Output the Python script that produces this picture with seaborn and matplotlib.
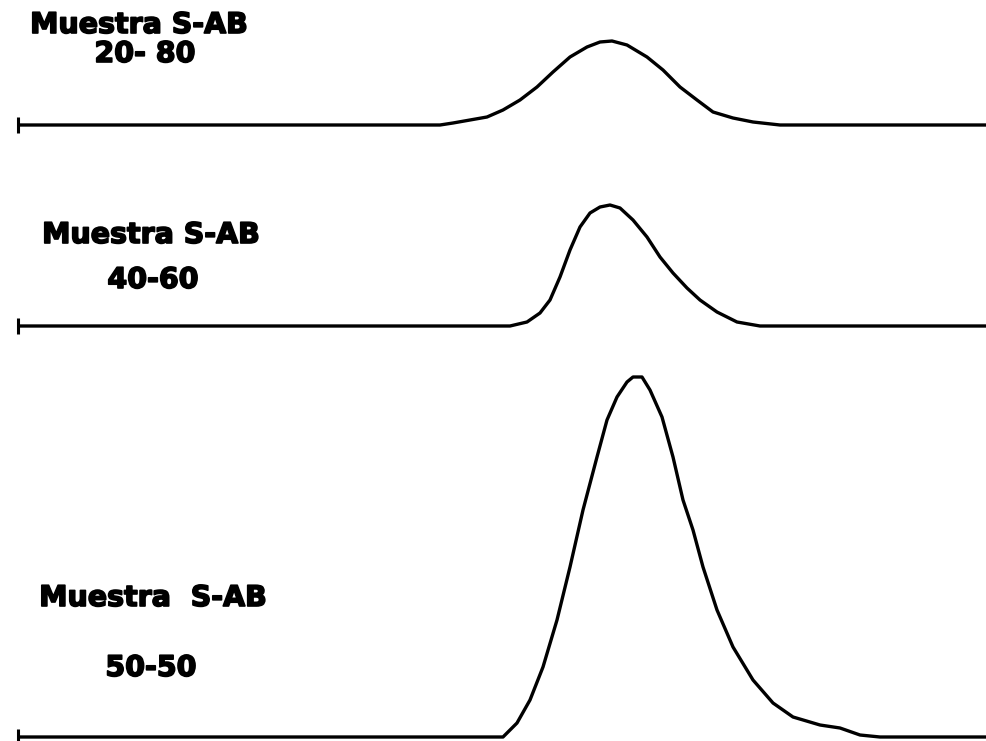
import numpy as np
import pandas as pd
import matplotlib
matplotlib.use("Agg")
import matplotlib.pyplot as plt
import matplotlib.patheffects as pe
import seaborn as sns

# ---- data (x position along the trace, height above each baseline) ----
top_x = [18, 440, 453, 487, 503, 520, 537, 553, 570, 587, 600, 612, 627, 647, 663,
         680, 697, 713, 733, 753, 780, 987]
top_h = [0, 0, 2, 8, 15, 25, 38, 53, 68, 78, 83, 84, 80, 68, 55,
         38, 25, 13, 7, 3, 0, 0]

mid_x = [18, 510, 527, 540, 550, 560, 570, 580, 590, 600, 610, 620, 633, 647, 660,
         673, 687, 700, 717, 737, 760, 987]
mid_h = [0, 0, 4, 13, 26, 49, 76, 99, 113, 119, 121, 118, 106, 89, 69,
         53, 38, 26, 14, 4, 0, 0]

bot_x = [18, 503, 517, 530, 543, 557, 570, 583, 597, 607, 617, 627, 633, 642, 650,
         662, 673, 683, 693, 703, 717, 733, 753, 773, 793, 820, 840, 860, 880, 987]
bot_h = [0, 0, 14, 37, 70, 117, 170, 227, 280, 317, 340, 355, 360, 360, 347,
         320, 280, 237, 207, 170, 127, 90, 57, 34, 20, 12, 9, 2, 0, 0]

samples = ["20-80", "40-60", "50-50"]
label_titles = ["Muestra S-AB", "Muestra S-AB", "Muestra  S-AB"]
label_sub = ["20- 80", "40-60", "50-50"]

# layout: baseline of each trace (figure is drawn in a top-down coordinate system)
baselines = [125, 326, 737]

frames = []
for name, xs, hs, b in zip(samples, [top_x, mid_x, bot_x], [top_h, mid_h, bot_h], baselines):
    frames.append(pd.DataFrame({"x": xs, "y": b - np.asarray(hs, dtype=float),
                                "sample": name, "order": range(len(xs))}))
df = pd.concat(frames, ignore_index=True)

sns.set_theme(style="white")
plt.rcParams["font.family"] = ["DejaVu Sans"]

fig = plt.figure(figsize=(9.87, 7.41), dpi=100)
ax = fig.add_axes([0, 0, 1, 1])

sns.lineplot(data=df, x="x", y="y", hue="sample", units="sample", estimator=None,
             sort=False, palette=["#000000"] * 3, linewidth=2.4, legend=False, ax=ax)
for ln in ax.lines:
    ln.set_solid_joinstyle("round")
    ln.set_solid_capstyle("butt")

# small start ticks at the left end of each baseline
starts = df[df["order"] == 0]
ax.plot(starts["x"], starts["y"], linestyle="none", marker="|", markersize=11,
        markeredgewidth=2.2, color="black")

ax.set_xlim(0, 987)
ax.set_ylim(741, 0)
ax.axis("off")

# labels
title_pos = [(139, 25), (151, 235), (153, 598)]
sub_pos = [(145, 54), (153, 280), (151, 668)]
heavy = [pe.withStroke(linewidth=1.2, foreground="black")]
for t, s, tp, sp in zip(label_titles, label_sub, title_pos, sub_pos):
    ax.text(tp[0], tp[1], t, ha="center", va="center", fontsize=20.5,
            fontweight="bold", color="black", path_effects=heavy)
    ax.text(sp[0], sp[1], s, ha="center", va="center", fontsize=20.5,
            fontweight="bold", color="black", path_effects=heavy)

fig.savefig("out.png", dpi=100, facecolor="white")
